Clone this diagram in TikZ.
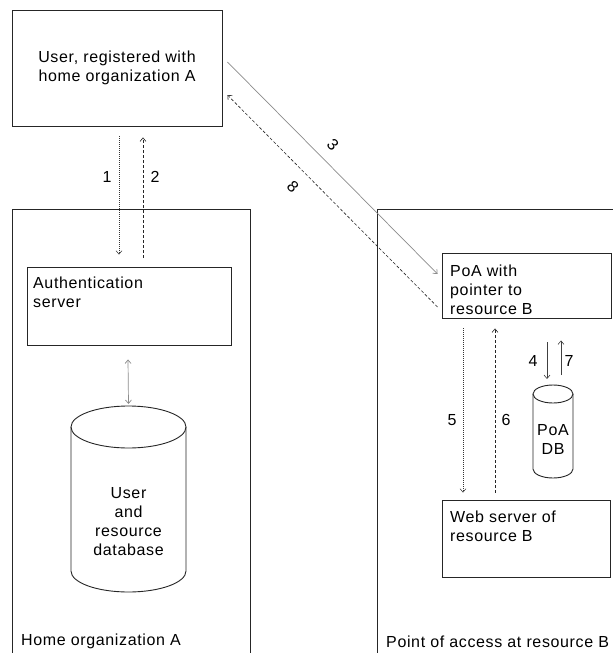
\documentclass[tikz,border=0pt]{standalone}
\usepackage{fontspec}
\setmainfont{Liberation Sans}[LetterSpace=4]
\usetikzlibrary{arrows.meta}
\begin{document}
\begin{tikzpicture}[x=1pt,y=-1pt,
  every node/.style={font=\fontsize{16}{19}\selectfont, inner sep=0pt, text=black},
  box/.style={draw=black!85, line width=0.9pt},
  txt/.style={anchor=north west, align=left},
  lbl/.style={anchor=center},
  tip/.style={-{Straight Barb[length=3.5pt,width=6pt]}},
  dotarr/.style={tip, draw=black!80, line width=0.5pt, dash pattern=on 1pt off 1pt},
  dasharr/.style={tip, draw=black!85, line width=0.6pt, dash pattern=on 3pt off 2pt},
  solarr/.style={tip, draw=black!75, line width=0.6pt},
  greyarr/.style={tip, draw=black!45, line width=0.7pt}
]
\useasboundingbox (0,0) rectangle (613,653);
\fill[white] (0,0) rectangle (613,653);

% containers
\draw[box] (12,653) |- (250,209) -- (250,653);
\draw[box] (377,653) |- (613,209);
\node[anchor=base west] (homelbl) at (21,645) {Home organization A};
\node[anchor=base west] (poalbl) at (386,647) {Point of access at resource B};

% user
\node[box, minimum width=210pt, minimum height=116pt, align=center] (user) at (117,68) {User, registered with\\home organization A};

% authentication server
\node[box, minimum width=204pt, minimum height=78pt] (auth) at (129,306) {};
\node[txt] (authtxt) at (33,277) {Authentication\\server};

% user database cylinder
\coordinate (dbtop) at (128.5,406);
\draw[box, fill=white] (71,427) -- (71,571) arc[start angle=180,end angle=360,x radius=57.5pt,y radius=21pt] -- (186,427);
\draw[box] (128.5,427) ellipse[x radius=57.5pt, y radius=21pt];
\node[anchor=north, align=center] (dbtxt) at (128.5,487) {User\\and\\resource\\database};

% PoA box
\node[box, minimum width=169pt, minimum height=65pt] (poa) at (526.5,285.5) {};
\node[txt] (poatxt) at (450,265) {PoA with\\pointer to\\resource B};

% PoA DB
\coordinate (pdbtop) at (553,385);
\draw[box, fill=white] (533,394) -- (533,469) arc[start angle=180,end angle=360,x radius=20pt,y radius=9pt] -- (573,394);
\draw[box] (553,394) ellipse[x radius=20pt, y radius=9pt];
\node[anchor=north, align=center] (pdbtxt) at (553,424) {PoA\\DB};

% Web server
\node[box, minimum width=168pt, minimum height=77pt] (web) at (526,538.5) {};
\node[txt] (webtxt) at (450,511) {Web server of\\resource B};

% connectors
\draw[dotarr] ([xshift=2pt,yshift=-10pt]user.south) -- ([xshift=-10pt,yshift=12pt]auth.north);
\draw[dasharr] ([xshift=14pt,yshift=9pt]auth.north) -- ([xshift=26pt,yshift=-11pt]user.south);
\draw[greyarr, {Straight Barb[length=3.5pt,width=6pt]}-{Straight Barb[length=3.5pt,width=6pt]}] ([xshift=-1pt,yshift=-14pt]auth.south) -- ([yshift=2pt]dbtop);
\draw[greyarr] ([xshift=5pt,yshift=6pt]user.east) -- ([xshift=-4pt,yshift=11.5pt]poa.west);
\draw[dasharr] ([xshift=-4pt,yshift=-21.5pt]poa.west) -- ([xshift=5pt,yshift=-27pt]user.east);
\draw[dotarr] ([xshift=-63.5pt,yshift=-10pt]poa.south) -- ([xshift=-63pt,yshift=7pt]web.north);
\draw[dasharr] ([xshift=-31pt,yshift=7pt]web.north) -- ([xshift=-31.5pt,yshift=-10pt]poa.south);
\draw[solarr] ([xshift=20.5pt,yshift=-24pt]poa.south) -- ([xshift=-6pt,yshift=6pt]pdbtop);
\draw[solarr] ([xshift=8pt,yshift=10pt]pdbtop) -- ([xshift=34.5pt,yshift=-22pt]poa.south);

% labels
\node[lbl] (l1) at (107,177) {1};
\node[lbl] (l2) at (155,177) {2};
\node[lbl, rotate=-45] (l3) at (333,145) {3};
\node[lbl, rotate=-45] (l8) at (293,187) {8};
\node[lbl] (l4) at (533,361) {4};
\node[lbl] (l7) at (569,361) {7};
\node[lbl] (l5) at (452,420) {5};
\node[lbl] (l6) at (506,420) {6};
\end{tikzpicture}
\end{document}
